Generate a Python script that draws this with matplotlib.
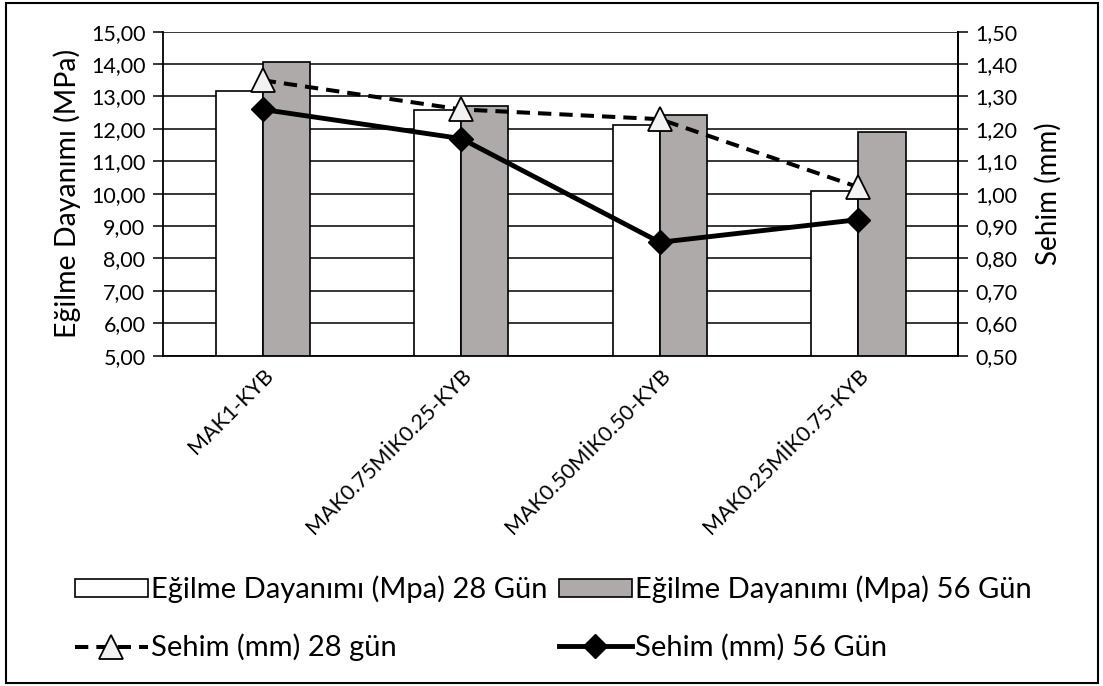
import numpy as np
import matplotlib.pyplot as plt
from matplotlib.ticker import FuncFormatter, MultipleLocator
from matplotlib.patches import Rectangle

plt.rcParams['font.family'] = ['Lato', 'DejaVu Sans']

categories = ['MAK1-KYB', 'MAK0.75MİK0.25-KYB', 'MAK0.50MİK0.50-KYB', 'MAK0.25MİK0.75-KYB']
strength_28 = [13.18, 12.58, 12.12, 10.08]
strength_56 = [14.08, 12.71, 12.43, 11.91]
sehim_28 = [1.35, 1.26, 1.23, 1.02]
sehim_56 = [1.26, 1.17, 0.85, 0.92]


def comma(v, _):
    return f'{v:.2f}'.replace('.', ',')


def main():
    fig = plt.figure(figsize=(11.03, 6.86), dpi=100)
    ax = fig.add_axes([0.1482, 0.4815, 0.7201, 0.4723])
    x = np.arange(len(categories))
    w = 0.237

    ax.set_axisbelow(True)
    ax.yaxis.grid(True, color='black', linewidth=1.1)
    b28 = ax.bar(x - w / 2, strength_28, w, color='white', edgecolor='black', linewidth=1.2,
                 label='Eğilme Dayanımı (Mpa) 28 Gün', zorder=2)
    b56 = ax.bar(x + w / 2, strength_56, w, color='#aeaaaa', edgecolor='black', linewidth=1.2,
                 label='Eğilme Dayanımı (Mpa) 56 Gün', zorder=2)
    ax.set_xlim(-0.5, len(categories) - 0.5)
    ax.set_ylim(5, 15)
    ax.yaxis.set_major_locator(MultipleLocator(1))
    ax.yaxis.set_major_formatter(FuncFormatter(comma))
    ax.set_ylabel('Eğilme Dayanımı (MPa)', fontsize=20.5)
    ax.yaxis.set_label_coords(-0.104, 0.5)
    ax.set_xticks(x)
    ax.set_xticklabels(categories, rotation=45, ha='right', va='top', rotation_mode='anchor', fontsize=15.5)
    ax.tick_params(axis='x', length=0, pad=7)
    ax.tick_params(axis='y', length=7, width=1.1, labelsize=15.5, direction='out', pad=6)
    ax.spines['top'].set_visible(False)
    for s in ['left', 'right', 'bottom']:
        ax.spines[s].set_linewidth(1.3)

    ax2 = ax.twinx()
    l28, = ax2.plot(x, sehim_28, color='black', linewidth=2.9, dashes=(3.3, 2.0),
                    marker='^', markersize=17, markerfacecolor='#f2f2f2', markeredgecolor='black',
                    markeredgewidth=1.3, label='Sehim (mm) 28 gün')
    l56, = ax2.plot(x, sehim_56, color='black', linewidth=3.5,
                    marker='D', markersize=12, markerfacecolor='black', markeredgecolor='black',
                    label='Sehim (mm) 56 Gün')
    ax2.set_ylim(0.5, 1.5)
    ax2.yaxis.set_major_locator(MultipleLocator(0.1))
    ax2.yaxis.set_major_formatter(FuncFormatter(comma))
    ax2.set_ylabel('Sehim (mm)', fontsize=20)
    ax2.yaxis.set_label_coords(1.0973, 0.5)
    ax2.tick_params(axis='y', length=7, width=1.1, labelsize=15.5, direction='out', pad=6)
    for s in ['top', 'left', 'bottom']:
        ax2.spines[s].set_visible(False)
    ax2.spines['right'].set_linewidth(1.3)

    fig.legend([b28, l28, b56, l56],
               [b28.get_label(), l28.get_label(), b56.get_label(), l56.get_label()],
               ncol=2, loc='upper left', bbox_to_anchor=(0.068, 0.161), frameon=False,
               fontsize=21, handlelength=2.5, handletextpad=0.1, columnspacing=0.4,
               labelspacing=1.05, borderaxespad=0, borderpad=0, handleheight=0.6)

    fig.patches.append(Rectangle((6 / 1103, 3 / 686), 1092 / 1103, 680 / 686,
                                 transform=fig.transFigure, fill=False, edgecolor='black',
                                 linewidth=1.5))
    fig.savefig('out.png', dpi=100)


if __name__ == '__main__':
    main()
